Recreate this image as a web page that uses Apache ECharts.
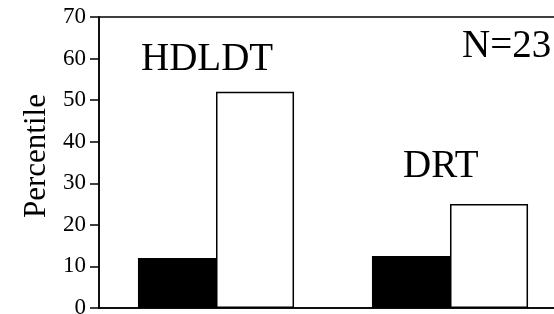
<!DOCTYPE html>
<html style="width:100%;height:100%;">
<head>
	<meta charset="UTF-8">
	<title>Percentile</title>
	<script src="https://cdn.jsdelivr.net/npm/echarts@6/dist/echarts.min.js"></script>
</head>
<body style="width:100%;height:100%;margin:0;padding:0;overflow:hidden;background:#fff;">
	<div id="chart" style="width:554px;height:314px;"></div>
	<script>
		// 数据
		var categories = ['HDLDT', 'DRT'];
		var blackValues = [12.0, 12.5];
		var whiteValues = [52, 25];
		var yTicks = [0, 10, 20, 30, 40, 50, 60, 70];
		var noteText = 'N=23';

		var font = '"Liberation Serif", "Times New Roman", serif';
		var myChart = echarts.init(document.getElementById('chart'));

		var option = {
			animation: false,
			grid: {
				left: 99,
				top: 17,
				right: -13, // 右边框在画面外
				bottom: 6,
				outerBoundsMode: 'none',
				containLabel: false,
				show: true,
				borderColor: '#000',
				borderWidth: 1.5
			},
			xAxis: {
				type: 'category',
				data: categories,
				axisLine: { show: true, lineStyle: { color: '#000', width: 1.5 } },
				axisTick: { show: false },
				axisLabel: { show: false }
			},
			yAxis: {
				type: 'value',
				min: yTicks[0],
				max: yTicks[yTicks.length - 1],
				interval: 10,
				splitLine: { show: false },
				axisLine: { show: true, lineStyle: { color: '#000', width: 1.5 } },
				axisTick: { show: true, inside: false, length: 9, lineStyle: { color: '#000', width: 1.5 } },
				axisLabel: { color: '#000', fontFamily: font, fontSize: 23, margin: 13, padding: [5, 0, 0, 0] }
			},
			series: [{
				type: 'bar',
				data: blackValues,
				barGap: '0%',
				barCategoryGap: '33.3%',
				itemStyle: { color: '#000', borderColor: '#000', borderWidth: 1.5 }
			}, {
				type: 'bar',
				data: whiteValues,
				itemStyle: { color: '#fff', borderColor: '#000', borderWidth: 1.5 }
			}],
			graphic: [{
				type: 'text', left: 141, top: 40,
				style: { text: categories[0], font: '39px ' + font, fill: '#000' }
			}, {
				type: 'text', left: 403, top: 147,
				style: { text: categories[1], font: '39px ' + font, fill: '#000' }
			}, {
				type: 'text', left: 462, top: 27,
				style: { text: noteText, font: '39px ' + font, fill: '#000' }
			}, {
				type: 'text', x: 37, y: 156, rotation: Math.PI / 2,
				style: { text: 'Percentile', font: '31px ' + font, fill: '#000', align: 'center', verticalAlign: 'middle' }
			}]
		};
		myChart.setOption(option);
	</script>
</body>
</html>
